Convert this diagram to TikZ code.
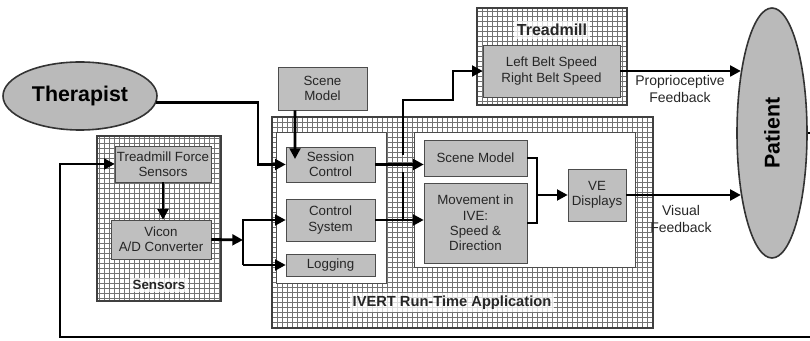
\documentclass[tikz,border=0pt]{standalone}
\usepackage{fontspec}
\setmainfont{Liberation Sans}
\usetikzlibrary{arrows.meta,shapes.geometric}

\begin{document}
\begin{tikzpicture}[x=0.75pt,y=-0.75pt,font=\fontsize{10}{11.5}\selectfont,
        box/.style={draw=black!70,fill=black!25,inner sep=1pt,align=center,text=black!85},
        gridbox/.style={draw=black!75,line width=0.8pt,fill=white,path picture={\draw[black!55,line width=0.6pt,step=3.75pt] (path picture bounding box.south west) grid (path picture bounding box.north east);}},
        panel/.style={draw=black!70,fill=white},
        oval/.style={ellipse,draw=black!80,fill=black!27,line width=1.2pt},
        lbl/.style={font=\fontsize{11}{13}\selectfont\bfseries,text=black!85,fill=white,fill opacity=0.75,text opacity=1,inner sep=2pt},
        conn/.style={draw,line width=2.1pt},
        conarr/.style={conn,-{Triangle[length=8pt,width=8pt]}}]
        \useasboundingbox (0,0) rectangle (810,341);

        \begin{scope}[every node/.style={gridbox}]
            \node[minimum width=93pt,minimum height=123.75pt] (sens) at (159,218.5) {};
            \node[minimum width=285.75pt,minimum height=158.25pt] (ivert) at (462.5,222.5) {};
            \node[minimum width=112.5pt,minimum height=72.75pt] (tread) at (552,56.5) {};
        \end{scope}

        \begin{scope}[every node/.style={panel}]
            \node[minimum width=82.5pt,minimum height=113.25pt] (lpanel) at (331,207.5) {};
            \node[minimum width=165.75pt,minimum height=101.25pt] (rpanel) at (524.5,199.5) {};
        \end{scope}

        \begin{scope}[every node/.style={box}]
            \node[minimum width=72pt,minimum height=27pt] (tfs) at (163,164) {Treadmill Force\\Sensors};
            \node[minimum width=75pt,minimum height=29.25pt] (vicon) at (161,239.5) {Vicon\\A/D Converter};
            \node[minimum width=66.75pt,minimum height=32.25pt] (scenetop) at (322.5,88.5) {Scene\\Model};
            \node[minimum width=66.75pt,minimum height=26.25pt] (sess) at (330.5,164.5) {Session\\Control};
            \node[minimum width=66.75pt,minimum height=31.5pt] (ctrl) at (330.5,220) {Control\\System};
            \node[minimum width=66.75pt,minimum height=16.5pt] (logg) at (330.5,265) {Logging};
            \node[minimum width=77.25pt,minimum height=27pt] (scene) at (475.5,158) {Scene Model};
            \node[minimum width=77.25pt,minimum height=60pt] (move) at (475.5,223) {Movement in\\IVE:\\Speed \&\\Direction};
            \node[minimum width=43.5pt,minimum height=39pt] (ve) at (597,195) {VE\\Displays};
            \node[minimum width=102.75pt,minimum height=39pt] (belt) at (551.5,71) {Left Belt Speed\\Right Belt Speed};
        \end{scope}

        \node[oval,minimum width=115.5pt,minimum height=51pt,font=\fontsize{16}{18}\selectfont\bfseries] (ther) at (80,96) {Therapist};
        \node[oval,minimum width=52.5pt,minimum height=187.5pt,label={[rotate=90,font=\fontsize{16}{18}\selectfont\bfseries]center:Patient}] (pat) at (772,133) {};

        \node[lbl,font=\fontsize{10}{12}\selectfont\bfseries] (senslbl) at (159,285) {Sensors};
        \node[lbl] (ivertlbl) at (452,303) {IVERT Run-Time Application};
        \node[lbl,font=\fontsize{12}{14}\selectfont\bfseries] (treadlbl) at (552,30) {Treadmill};
        \node[align=center,text=black!85,font=\fontsize{10.5}{12.5}\selectfont] (proplbl) at (680,89) {Proprioceptive\\Feedback};
        \node[align=center,text=black!85,font=\fontsize{10.5}{12.5}\selectfont] (vislbl) at (681,219) {Visual\\Feedback};

        \coordinate (tjoin) at (258,164.5);
        \coordinate (vbar) at (243,240);
        \coordinate (smin) at (295,159);
        \coordinate (split) at (403,220);
        \coordinate (gapb) at (403,172);
        \coordinate (gapt) at (403,155);
        \coordinate (tbend) at (453,100);
        \coordinate (vjoin) at (537,195);
        \coordinate (rcorner) at (815,337);
        \coordinate (lcorner) at (60,337);

        \begin{scope}[every edge/.style={draw,line width=2.1pt,-{Triangle[length=8pt,width=8pt]}}]
            \path (tfs.south) edge (tfs.south |- vicon.north);
            \path (vicon.east) edge (vbar);
            \path (vbar |- logg.west) edge (logg.west);
            \path (sess.east) edge (sess.east -| scene.west);
            \path (ctrl.east) edge (ctrl.east -| move.west);
            \path (vjoin) edge (ve.west);
            \path (ve.east) edge ([xshift=3.5pt]ve.east -| pat.west);
            \path (belt.east) edge ([xshift=3.5pt]belt.east -| pat.west);
            \path ([xshift=-20.6pt]scenetop.south) edge (smin);
        \end{scope}

        \draw[conarr] (ther.-5) -| (tjoin) -- (sess.west);
        \draw[conarr] (vbar |- logg.west) -- (vbar |- ctrl.west) -- (ctrl.west);
        \draw[conn] (split) -- (gapb);
        \draw[conarr] (gapt) |- (tbend) |- (belt.west);
        \draw[conn] (scene.east) -| (vjoin);
        \draw[conn] (move.east) -| (vjoin);
        \draw[conarr] (pat.east) -| (rcorner) -- (lcorner) |- (tfs.west);
    \end{tikzpicture}
\end{document}
